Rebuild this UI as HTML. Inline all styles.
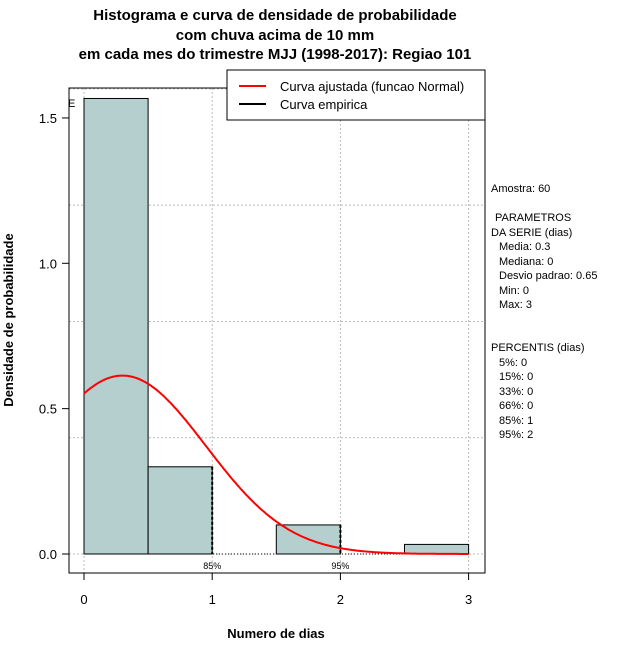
<!DOCTYPE html>
<html><head><meta charset="utf-8"><style>
body{margin:0;background:#fff}
svg text{font-family:"Liberation Sans",sans-serif}
</style></head><body>
<svg id="chart" width="640" height="660" xmlns="http://www.w3.org/2000/svg">
<g font-weight="bold" font-size="15" text-anchor="middle">
<text x="275" y="20">Histograma e curva de densidade de probabilidade</text>
<text x="275" y="40">com chuva acima de 10 mm</text>
<text x="275" y="59">em cada mes do trimestre MJJ (1998-2017): Regiao 101</text>
</g>
<g id="grid"></g>
<g id="bars"></g>
<g id="marks"></g>
<rect x="69" y="88" width="416" height="485" fill="none" stroke="#000"/>
<g id="axes" font-size="13"></g>
<text x="276" y="638" font-size="13" font-weight="bold" text-anchor="middle">Numero de dias</text>
<text transform="translate(13,320) rotate(-90)" font-size="13" font-weight="bold" text-anchor="middle">Densidade de probabilidade</text>
<text x="68" y="107" font-size="11">E</text>
<g>
<rect x="227" y="70" width="258" height="50" fill="#fff" stroke="#000"/>
<line x1="239" y1="86" x2="266" y2="86" stroke="#f00" stroke-width="2"/>
<text x="280" y="91" font-size="13">Curva ajustada (funcao Normal)</text>
<line x1="239" y1="104" x2="266" y2="104" stroke="#000" stroke-width="2"/>
<text x="280" y="109" font-size="13">Curva empirica</text>
</g>
<g font-size="11">
<text x="491" y="192">Amostra: 60</text>
<text x="495" y="221">PARAMETROS</text>
<text x="491" y="236">DA SERIE (dias)</text>
<text x="499" y="250">Media: 0.3</text>
<text x="499" y="265">Mediana: 0</text>
<text x="499" y="279">Desvio padrao: 0.65</text>
<text x="499" y="294">Min: 0</text>
<text x="499" y="308">Max: 3</text>
<text x="491" y="351">PERCENTIS (dias)</text>
<text x="499" y="366">5%: 0</text>
<text x="499" y="380">15%: 0</text>
<text x="499" y="395">33%: 0</text>
<text x="499" y="409">66%: 0</text>
<text x="499" y="424">85%: 1</text>
<text x="499" y="438">95%: 2</text>
</g>
</svg>
<script>
const binStarts=[0,0.5,1,1.5,2,2.5];
const binDensity=[1.567,0.3,0,0.1,0,0.033];
const xTicks=[0,1,2,3];
const yTicks=[0,0.5,1.0,1.5];
const yTickLabels=["0.0","0.5","1.0","1.5"];
const gridY=[0,0.4,0.8,1.2,1.6];
const fitMean=[0.3];
const fitSd=[0.65];
const pctValues=[1,2];
const pctLabels=["85%","95%"];
const NS="http://www.w3.org/2000/svg";
const X=v=>84+v*128.2;
const Y=v=>554-v*290.7;
function mk(tag,attrs,parent){const e=document.createElementNS(NS,tag);for(const k in attrs)e.setAttribute(k,attrs[k]);parent.appendChild(e);return e;}
const grid=document.getElementById('grid'),bars=document.getElementById('bars'),marks=document.getElementById('marks'),axes=document.getElementById('axes');
xTicks.forEach(t=>{const l=mk('line',{x1:X(t),x2:X(t),y1:88,y2:573,stroke:'#bbb','stroke-dasharray':'2,2'},grid);

});
gridY.forEach(t=>{const l=mk('line',{x1:69,x2:485,y1:Y(t),y2:Y(t),stroke:'#bbb','stroke-dasharray':'2,2'},grid);

});
binStarts.forEach((s,i)=>{if(binDensity[i]<=0)return;const r=mk('rect',{x:X(s),y:Y(binDensity[i]),width:X(s+0.5)-X(s),height:Y(0)-Y(binDensity[i]),fill:'#b5cece',stroke:'#000'},bars);

});
const base=mk('line',{x1:X(0),x2:X(3),y1:Y(0),y2:Y(0),stroke:'#000','stroke-dasharray':'1,2'},marks);


const le=mk('line',{x1:X(0),x2:X(0),y1:Y(binDensity[0]),y2:Y(0),stroke:'#000','stroke-dasharray':'1,2'},marks);


pctValues.forEach((p,i)=>{const b=Math.min(binStarts.length-1,Math.max(0,Math.round(p/0.5)-1));
const l=mk('line',{x1:X(p),x2:X(p),y1:Y(binDensity[b]),y2:Y(0),stroke:'#000','stroke-width':2,'stroke-dasharray':'3,2'},marks);


const t=mk('text',{x:X(p),y:569,'font-size':9,'text-anchor':'middle'},marks);t.textContent=pctLabels[i];

});
let d='';const m=fitMean[0],sd=fitSd[0];
for(let k=0;k<=300;k++){const x=k/100;const y=Math.exp(-(x-m)*(x-m)/(2*sd*sd))/(sd*Math.sqrt(2*Math.PI));d+=(k?'L':'M')+X(x).toFixed(1)+','+Y(y).toFixed(1);}
const c=mk('path',{d:d,fill:'none',stroke:'#f00','stroke-width':2},marks);


xTicks.forEach(t=>{const l=mk('line',{x1:X(t),x2:X(t),y1:573,y2:580,stroke:'#000'},axes);


const tx=mk('text',{x:X(t),y:604,'text-anchor':'middle'},axes);tx.textContent=t;

});
yTicks.forEach((t,i)=>{const l=mk('line',{x1:62,x2:69,y1:Y(t),y2:Y(t),stroke:'#000'},axes);


const tx=mk('text',{x:57,y:Y(t)+5,'text-anchor':'end'},axes);tx.textContent=yTickLabels[i];

});
</script>
</body></html>
